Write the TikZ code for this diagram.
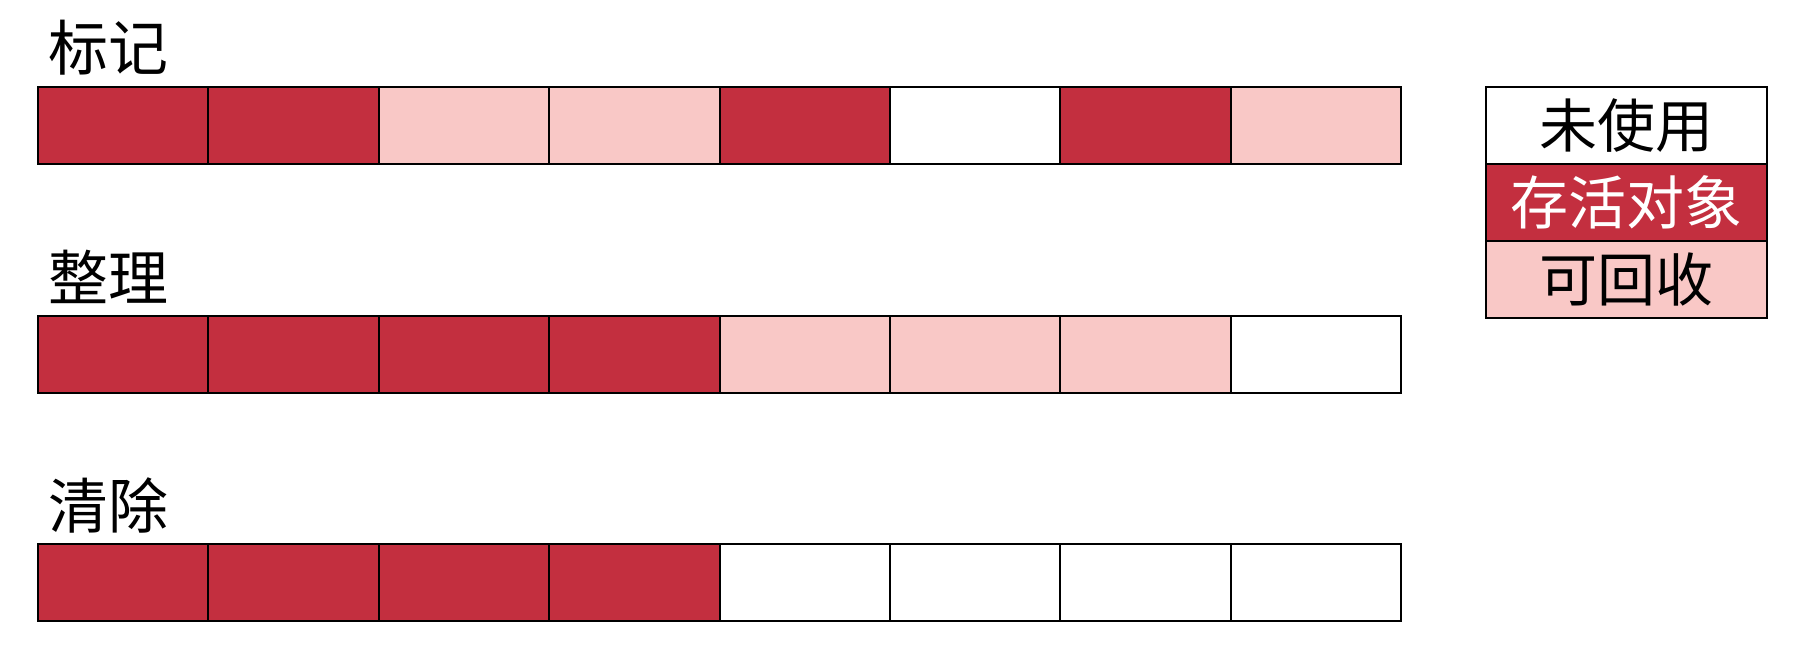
\documentclass[tikz,border=0pt]{standalone}
\usepackage{fontspec}
\newfontfamily\cjk{Noto Sans CJK SC}
\definecolor{live}{HTML}{C32F3F}
\definecolor{reclaim}{HTML}{F9C8C6}
\tikzset{
  cell/.style={draw=black, line width=2pt, minimum width=170.4pt, minimum height=77pt, inner sep=0pt, outer sep=0pt, anchor=north west},
  D/.style={cell, fill=live},
  L/.style={cell, fill=reclaim},
  W/.style={cell, fill=white},
  title/.style={font=\cjk\fontsize{60}{64}\selectfont, inner sep=0pt, anchor=base west},
  legend/.style={draw=black, line width=2pt, minimum width=281pt, minimum height=77pt, inner sep=0pt, outer sep=0pt, anchor=north west, font=\cjk\fontsize{58}{62}\selectfont}
}
\begin{document}
\begin{tikzpicture}[x=1pt,y=-1pt]
\useasboundingbox[fill=white] (0,0) rectangle (1802,647);
% titles
\node[title] (t1) at (48,71) {标记};
\node[title] (t2) at (48,300) {整理};
\node[title] (t3) at (48,528) {清除};
% row 1
\foreach \s [count=\i from 0] in {D,D,L,L,D,W,D,L}
  \node[\s] (a\i) at ({38+170.4*\i},87) {};
% row 2
\foreach \s [count=\i from 0] in {D,D,D,D,L,L,L,W}
  \node[\s] (b\i) at ({38+170.4*\i},316) {};
% row 3
\foreach \s [count=\i from 0] in {D,D,D,D,W,W,W,W}
  \node[\s] (c\i) at ({38+170.4*\i},544) {};
% legend
\node[legend, fill=white] (l1) at (1486,87) {未使用};
\node[legend, fill=live, text=white] (l2) at (1486,164) {存活对象};
\node[legend, fill=reclaim] (l3) at (1486,241) {可回收};
\end{tikzpicture}
\end{document}
